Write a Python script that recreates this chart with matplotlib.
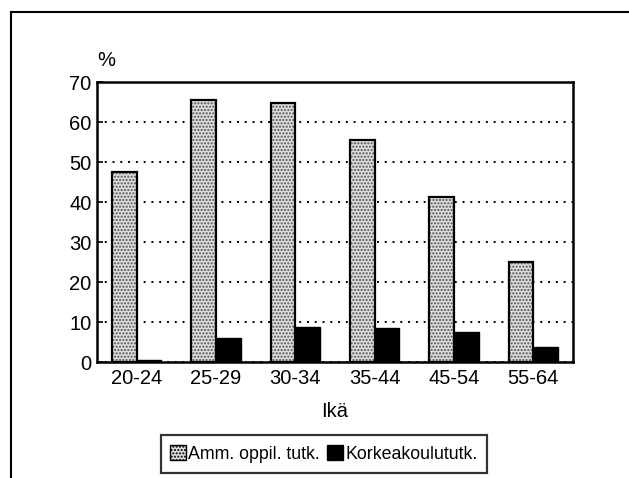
import matplotlib

matplotlib.use("Agg")
import matplotlib.pyplot as plt
from matplotlib.patches import Patch
from matplotlib.lines import Line2D
import numpy as np

plt.rcParams["font.family"] = ["Liberation Sans", "DejaVu Sans"]
plt.rcParams["hatch.linewidth"] = 1.0

AGE_GROUPS = ["20-24", "25-29", "30-34", "35-44", "45-54", "55-64"]
AMM_OPPIL = [47.4, 65.6, 64.7, 55.4, 41.2, 25.0]
KORKEAKOULU = [0.4, 5.9, 8.8, 8.6, 7.5, 3.8]
SERIES_LABELS = ["Amm. oppil. tutk.", "Korkeakoulututk."]
Y_TICKS = [0, 10, 20, 30, 40, 50, 60, 70]

STIPPLE_FACE = "#dcdcdc"
STIPPLE_DOTS = "#505050"
TICK_SIZE = 14.5
LEGEND_SIZE = 12.8

W, H = 629, 478
fig = plt.figure(figsize=(W / 100, H / 100), dpi=100, facecolor="white")
ax = fig.add_axes([97 / W, 1 - 362 / H, 476 / W, 280 / H])

x = np.arange(len(AGE_GROUPS))
width = 0.31

# stippled bars: hatch first, then black outline on top
ax.bar(x - width / 2, AMM_OPPIL, width, color=STIPPLE_FACE,
       edgecolor=STIPPLE_DOTS, hatch=".....", linewidth=0, zorder=2)
ax.bar(x - width / 2, AMM_OPPIL, width, fill=False,
       edgecolor="black", linewidth=1.6, zorder=3)
ax.bar(x + width / 2, KORKEAKOULU, width, color="black",
       edgecolor="black", linewidth=1.0, zorder=3)

ax.set_xlim(-0.5, len(AGE_GROUPS) - 0.5)
ax.set_ylim(0, 70)
ax.set_yticks(Y_TICKS)
ax.set_xticks(x)
ax.set_xticklabels(AGE_GROUPS)
ax.tick_params(axis="x", length=0, pad=5, labelsize=TICK_SIZE)
ax.tick_params(axis="y", direction="in", length=4, width=1.2, pad=4,
               labelsize=TICK_SIZE)

ax.set_axisbelow(True)
ax.yaxis.grid(True, linestyle=(0, (1, 3)), color="black", linewidth=1.4)

for s in ax.spines.values():
    s.set_linewidth(1.8)
    s.set_color("black")

ax.set_xlabel("Ikä", fontsize=TICK_SIZE, labelpad=10)
fig.text(106 / W, 1 - 60 / H, "%", fontsize=TICK_SIZE, ha="center", va="center")

handles = [
    Patch(facecolor=STIPPLE_FACE, edgecolor="black", hatch=".....", linewidth=1.0),
    Patch(facecolor="black", edgecolor="black"),
]
leg = fig.legend(handles, SERIES_LABELS, loc="center",
                 bbox_to_anchor=(324 / W, 1 - 454 / H), ncol=2,
                 fontsize=LEGEND_SIZE, frameon=True, fancybox=False,
                 edgecolor="black", handlelength=0.9, handleheight=0.9,
                 handletextpad=0.12, columnspacing=0.4, borderpad=0.55,
                 borderaxespad=0)
leg.get_frame().set_linewidth(1.6)

# outer frame of the scanned figure
fig.add_artist(Line2D([11 / W, 11 / W], [0, 1 - 12 / H], transform=fig.transFigure,
                      color="black", linewidth=1.5))
fig.add_artist(Line2D([11 / W, 1], [1 - 12 / H, 1 - 12 / H], transform=fig.transFigure,
                      color="black", linewidth=1.5))

fig.savefig("out.png", dpi=100, facecolor="white")
